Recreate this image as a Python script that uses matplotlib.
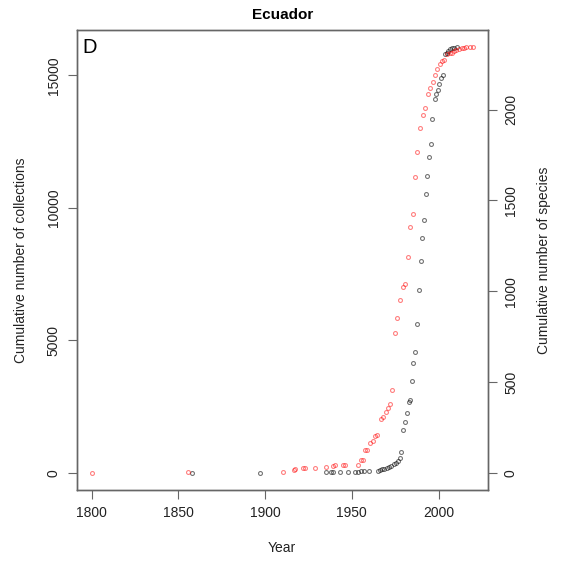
import numpy as np
import matplotlib as mpl
mpl.use('agg')
import matplotlib.pyplot as plt

plt.rcParams['font.family'] = ['Liberation Sans', 'DejaVu Sans']

# Cumulative collections per year (left axis)
coll_year = [1857.8, 1896.8, 1934.8, 1937.7, 1939.2, 1942.9, 1947.5, 1952.0,
             1953.4, 1955.3, 1957.0, 1959.6, 1964.9, 1966.1, 1967.4, 1968.8,
             1970.1, 1971.5, 1972.8, 1974.2, 1975.5, 1976.8, 1977.6, 1978.6,
             1979.5, 1980.7, 1981.6, 1982.8, 1983.4, 1984.7, 1985.5, 1986.6,
             1987.4, 1988.6, 1989.7, 1990.5, 1991.6, 1992.6, 1993.5, 1994.3,
             1995.5, 1996.4, 1997.8, 1998.5, 1999.5, 2000.5, 2001.4, 2002.4,
             2003.9, 2004.7, 2005.6, 2006.6, 2007.8, 2009.1, 2010.4]
coll_count = [3, 6, 20, 24, 26, 45, 48, 52,
              55, 58, 60, 64, 88, 113, 138, 163,
              200, 238, 276, 326, 376, 439, 576, 802,
              1629, 1905, 2280, 2694, 2757, 3471, 4135, 4548,
              5613, 6917, 8007, 8846, 9523, 10513, 11202, 11904,
              12417, 13344, 14096, 14284, 14447, 14660, 14911, 15011,
              15788, 15851, 15913, 15976, 16013, 16020, 16063]

# Cumulative species per year (right axis)
spp_year = [1800.0, 1855.7, 1910.4, 1916.5, 1917.3, 1922.0, 1923.0, 1929.0,
            1934.8, 1939.2, 1940.5, 1944.6, 1946.0, 1953.4, 1955.0, 1956.5,
            1957.6, 1959.0, 1960.5, 1961.9, 1963.6, 1964.7, 1966.7, 1968.0,
            1969.4, 1970.7, 1972.0, 1973.4, 1975.1, 1976.3, 1977.8, 1979.5,
            1980.7, 1982.4, 1983.8, 1985.1, 1986.6, 1987.8, 1989.3, 1990.9,
            1992.2, 1993.7, 1995.1, 1996.6, 1998.2, 1999.3, 2000.7, 2002.0,
            2003.3, 2005.1, 2006.4, 2007.8, 2009.1, 2010.3, 2011.8, 2013.3,
            2014.7, 2016.0, 2018.3, 2019.7]
spp_count = [1, 3, 4, 18, 22, 27, 27, 28,
             31, 40, 42, 42, 46, 46, 73, 73,
             124, 128, 165, 174, 201, 210, 298, 306,
             333, 355, 379, 458, 772, 853, 952, 1021,
             1039, 1188, 1351, 1426, 1629, 1764, 1900, 1971,
             2009, 2086, 2119, 2152, 2191, 2223, 2251, 2266,
             2273, 2306, 2309, 2313, 2320, 2326, 2331, 2337,
             2339, 2342, 2344, 2344]

box_col = '#666666'
txt_col = '#222222'

fig = plt.figure(figsize=(5.64, 5.64), dpi=100)
ax = fig.add_axes([76.5 / 564, 1 - 490 / 564, 411.5 / 564, 460 / 564])

ax.plot(coll_year, coll_count, 'o', ms=2.8, mfc='none', mec='black',
        mew=0.8, alpha=0.55)
ax.set_xlim(1791.2, 2028.5)
ax.set_ylim(-642, 16705)
ax.set_xticks([1800, 1850, 1900, 1950, 2000])
ax.set_yticks([0, 5000, 10000, 15000])
ax.set_yticklabels(['0', '5000', '10000', '15000'], rotation=90, va='center')
ax.set_xlabel('Year', fontsize=10, labelpad=15, color=txt_col)
ax.set_ylabel('Cumulative number of collections', fontsize=10, labelpad=13,
              color=txt_col)
ax.set_title('Ecuador', fontsize=11, fontweight='bold', pad=8)
ax.text(0.014, 0.983, 'D', transform=ax.transAxes, fontsize=14.5,
        ha='left', va='top')

ax2 = ax.twinx()
ax2.plot(spp_year, spp_count, 'o', ms=2.8, mfc='none', mec='red',
         mew=0.8, alpha=0.5)
ax2.set_ylim(-94, 2438)
ax2.set_yticks([0, 500, 1000, 1500, 2000])
ax2.set_yticklabels(['0', '500', '1000', '1500', '2000'], rotation=90,
                    va='center')
ax2.set_ylabel('Cumulative number of species', fontsize=10, labelpad=14,
               color=txt_col)

for a in (ax, ax2):
    for s in a.spines.values():
        s.set_color(box_col)
        s.set_linewidth(1.0)
    a.tick_params(length=6.5, width=0.8, color=box_col, labelsize=10, pad=5,
                  labelcolor=txt_col)

fig.savefig('out.png')
